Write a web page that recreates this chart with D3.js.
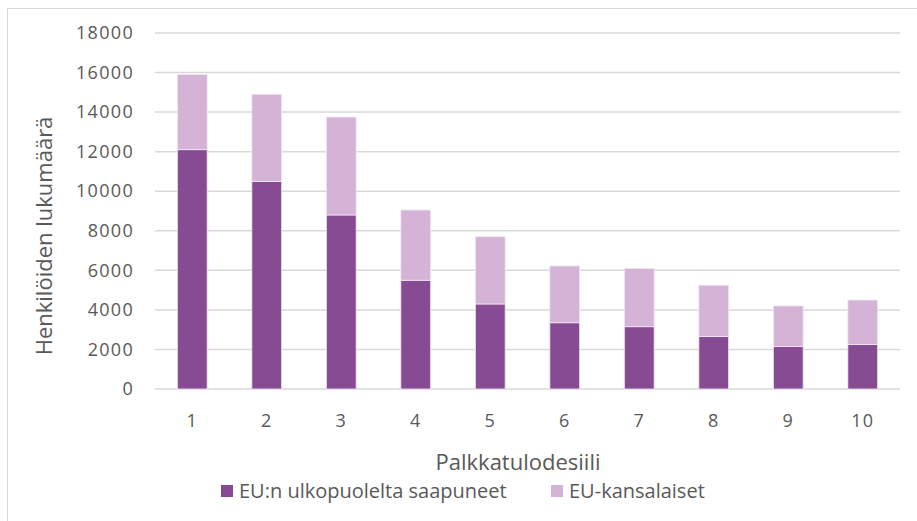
<!DOCTYPE html>
<html>
<head>
<meta charset="utf-8">
<script src="https://cdn.jsdelivr.net/npm/d3@7"></script>
<style>
  body { margin: 0; background: #fff; }
  svg text { font-family: "Open Sans", "Noto Sans", sans-serif; fill: #595959; }
</style>
</head>
<body>
<svg id="chart" width="917" height="521"></svg>
<script>
const categories = ['1', '2', '3', '4', '5', '6', '7', '8', '9', '10'];
const seriesNames = ['EU:n ulkopuolelta saapuneet', 'EU-kansalaiset'];
const nonEU = [12100, 10500, 8800, 5500, 4300, 3350, 3150, 2650, 2150, 2250];
const euCitizens = [3800, 4400, 4950, 3550, 3400, 2870, 2950, 2600, 2050, 2250];
const yTicks = [0, 2000, 4000, 6000, 8000, 10000, 12000, 14000, 16000, 18000];
const colors = ['#874b93', '#d4b3d6'];

const MARGIN = {top: 33, right: 17, bottom: 132, left: 155};
const WIDTH = 917, HEIGHT = 521;

const svg = d3.select('#chart');

// outer chart frame
svg.append('rect')
    .attr('x', 7.5).attr('y', 8.5)
    .attr('width', 940).attr('height', 540)
    .attr('fill', 'none').attr('stroke', '#d9d9d9');

const rows = categories.map((c, i) => ({cat: c, a: nonEU[i], b: euCitizens[i]}));
const stack = d3.stack().keys(['a', 'b'])(rows);

const xScale = d3.scaleBand()
    .domain(categories)
    .range([MARGIN.left, WIDTH - MARGIN.right])
    .paddingInner(0.6).paddingOuter(0.3);

const yScale = d3.scaleLinear()
    .domain([0, 18000])
    .range([HEIGHT - MARGIN.bottom, MARGIN.top]);

// gridlines
svg.append('g')
    .selectAll('line')
    .data(yTicks)
    .join('line')
    .attr('x1', MARGIN.left).attr('x2', WIDTH - MARGIN.right)
    .attr('y1', d => yScale(d)).attr('y2', d => yScale(d))
    .attr('stroke', '#d9d9d9').attr('stroke-width', 1.5);

// y axis labels
const yAxis = d3.axisLeft(yScale).tickValues(yTicks).tickSize(0).tickPadding(0).tickFormat(d3.format('d'));
svg.append('g')
    .attr('transform', `translate(134, 0)`)
    .call(yAxis)
    .call(g => g.select('.domain').remove())
    .selectAll('text')
    .attr('font-size', 18).attr('font-family', null)
    .attr('letter-spacing', 1.3);

// x axis labels
const xAxis = d3.axisBottom(xScale).tickSize(0).tickPadding(0);
svg.append('g')
    .attr('transform', `translate(0, ${HEIGHT - MARGIN.bottom + 25})`)
    .call(xAxis)
    .call(g => g.select('.domain').remove())
    .selectAll('text')
    .attr('font-size', 18).attr('font-family', null)
    .attr('letter-spacing', 1.3);

// bars
svg.append('g')
    .selectAll('g')
    .data(stack)
    .join('g')
    .attr('fill', (d, i) => colors[i])
    .selectAll('rect')
    .data(d => d)
    .join('rect')
    .attr('x', d => xScale(d.data.cat))
    .attr('width', xScale.bandwidth())
    .attr('y', d => yScale(d[1]))
    .attr('height', d => yScale(d[0]) - yScale(d[1]))
    .attr('stroke', '#f3e8f4').attr('stroke-width', 0.8);

// axis titles
svg.append('text')
    .attr('x', 518).attr('y', 470)
    .attr('text-anchor', 'middle')
    .attr('font-size', 22)
    .text('Palkkatulodesiili');

svg.append('text')
    .attr('transform', `translate(52, 236) rotate(-90)`)
    .attr('text-anchor', 'middle')
    .attr('font-size', 22)
    .text('Henkilöiden lukumäärä');

// legend
const legendX = [221, 551];
const legend = svg.append('g')
    .selectAll('g')
    .data(seriesNames)
    .join('g')
    .attr('transform', (d, i) => `translate(${legendX[i]}, 491)`);
legend.append('rect')
    .attr('x', 0).attr('y', -6).attr('width', 12).attr('height', 12)
    .attr('fill', (d, i) => colors[i]);
legend.append('text')
    .attr('x', 18).attr('y', 7)
    .attr('font-size', 20)
    .text(d => d);
</script>
</body>
</html>
